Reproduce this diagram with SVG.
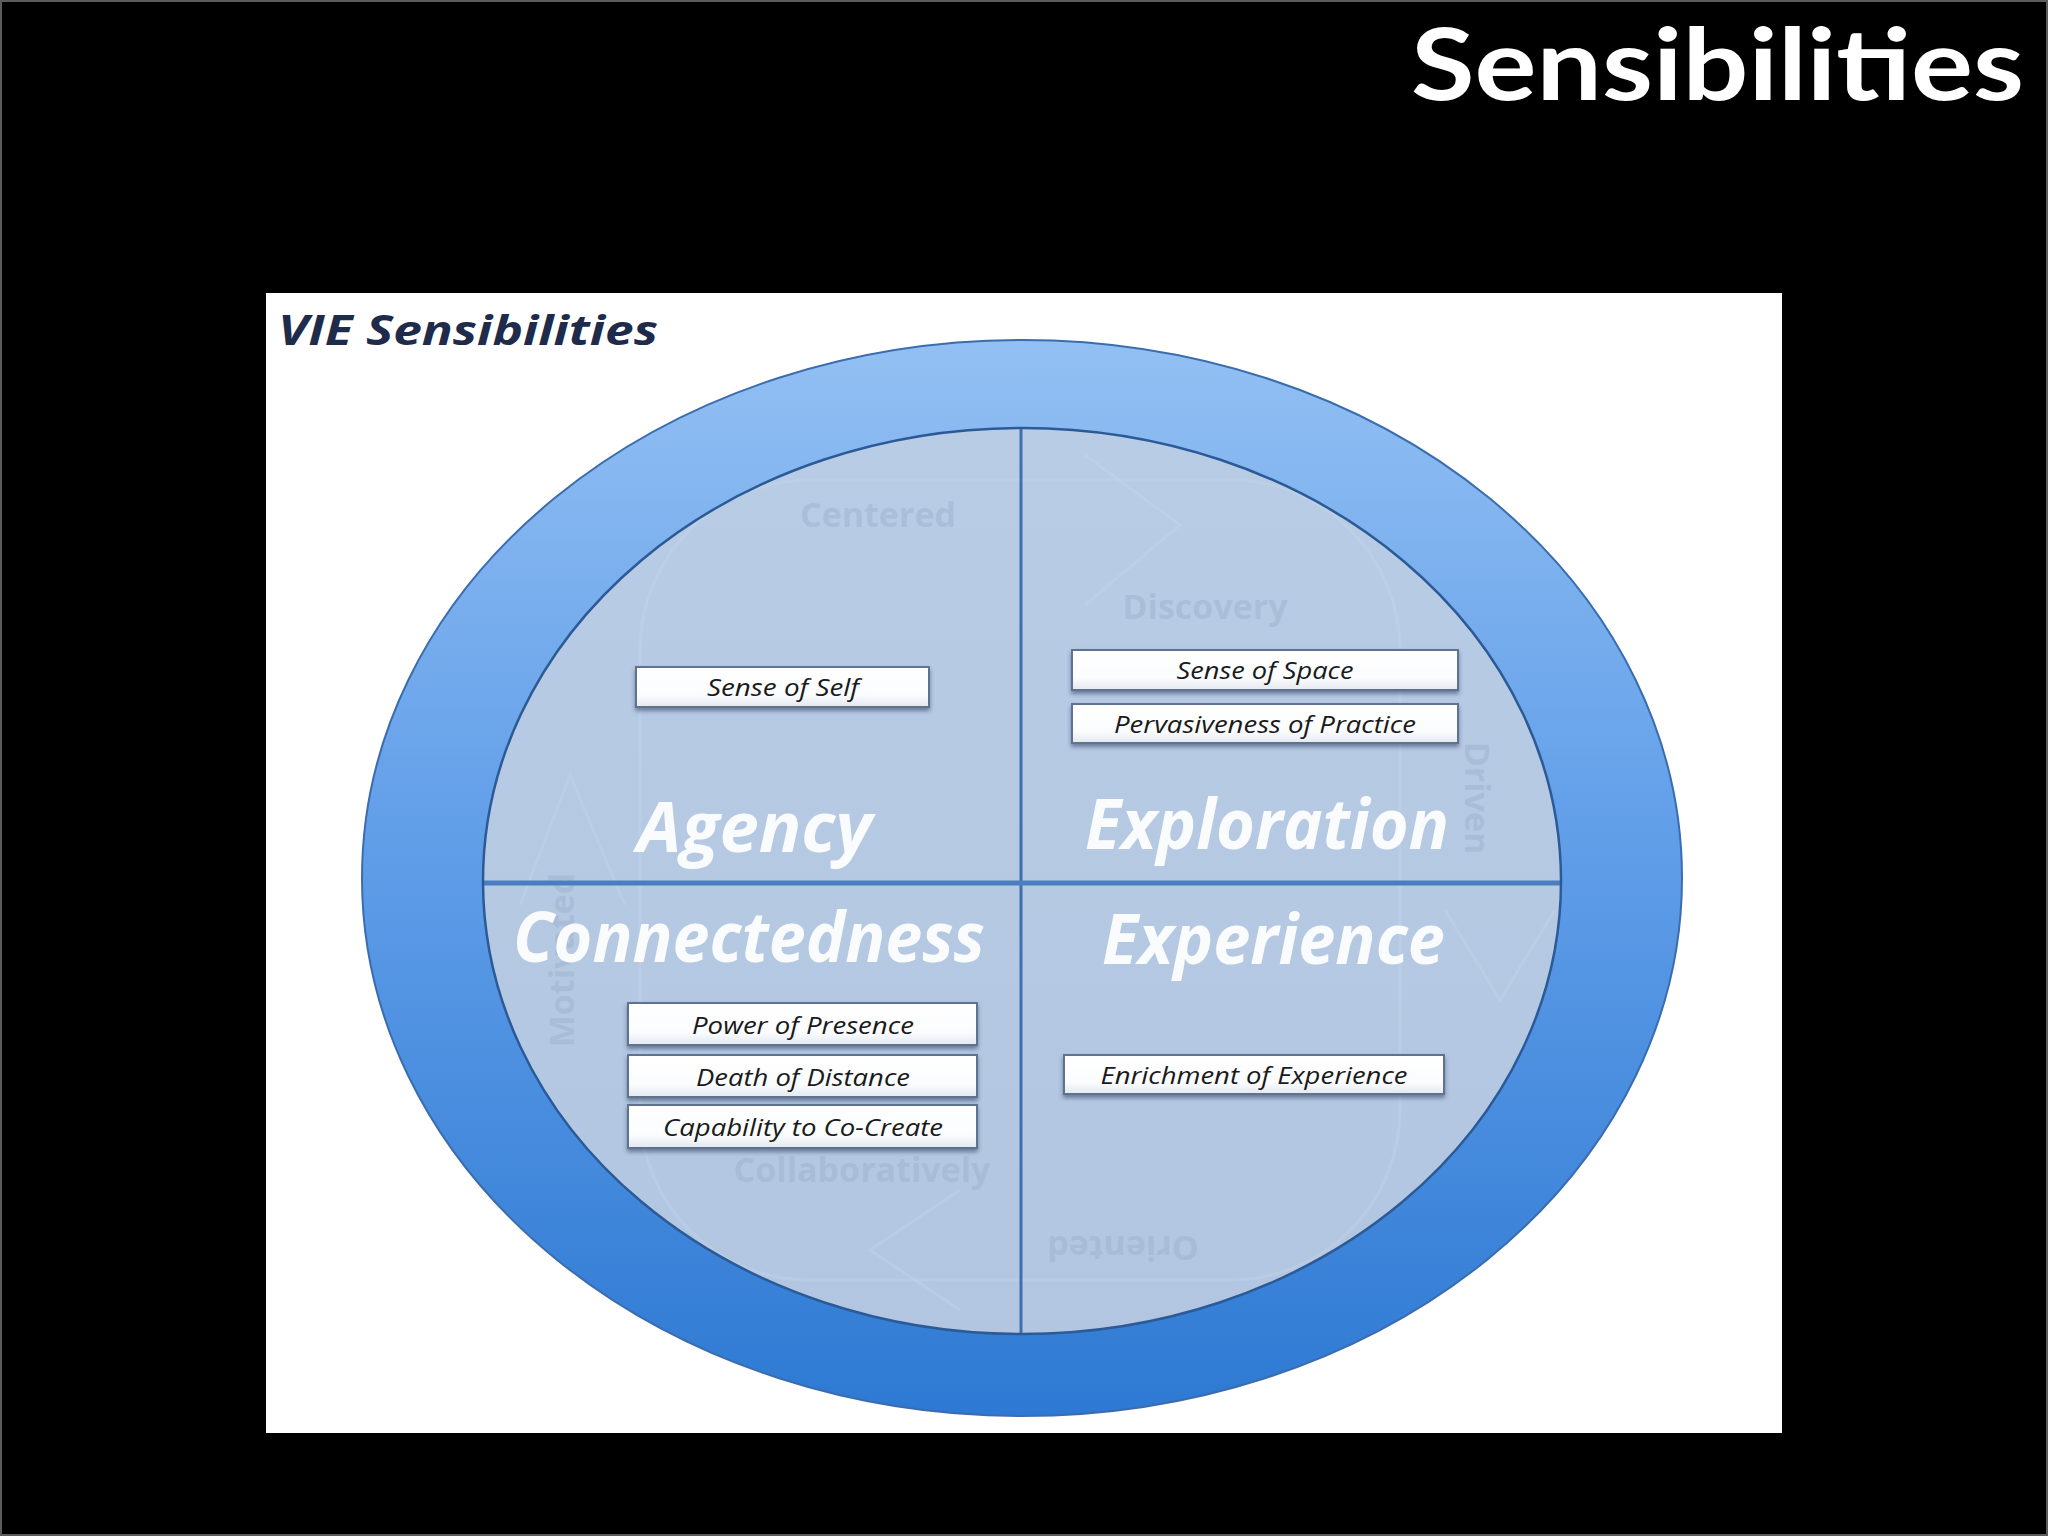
<svg xmlns="http://www.w3.org/2000/svg" width="2048" height="1536" viewBox="0 0 2048 1536">
  <defs>
    <style>
      .title { font-family: Lato, "Open Sans", "Liberation Sans", sans-serif; font-weight: 700; fill: #ffffff; }
      .sub { font-family: "Open Sans", "Liberation Sans", sans-serif; font-weight: 700; font-style: italic; fill: #1e2b4b; }
      .big { font-family: "Open Sans", "Liberation Sans", sans-serif; font-weight: 700; font-style: italic; fill: #ffffff; fill-opacity: 0.93; }
      .lbl { font-family: "Open Sans", "Liberation Sans", sans-serif; font-style: italic; font-size: 24px; fill: #1a1a1a; text-anchor: middle; }
      .ghost { font-family: "Open Sans", "Liberation Sans", sans-serif; font-weight: 700; font-size: 34px; fill: #9fb3cf; fill-opacity: 0.55; text-anchor: middle; }
      .ghostshape { fill: none; stroke: #c7d6ea; stroke-opacity: 0.35; stroke-width: 3; }
      .box { fill: url(#boxGrad); stroke: #5f7390; stroke-width: 2; filter: url(#shadow); }
      .divider { stroke: #3e6fae; }
    </style>
    <linearGradient id="ringGrad" x1="0" y1="0" x2="0" y2="1">
      <stop offset="0" stop-color="#93c0f3"/>
      <stop offset="0.45" stop-color="#629fe9"/>
      <stop offset="1" stop-color="#2d79d3"/>
    </linearGradient>
    <linearGradient id="innerGrad" x1="0" y1="0" x2="0" y2="1">
      <stop offset="0" stop-color="#b9cce5"/>
      <stop offset="1" stop-color="#b2c6e1"/>
    </linearGradient>
    <linearGradient id="boxGrad" x1="0" y1="0" x2="0" y2="1">
      <stop offset="0" stop-color="#ffffff"/>
      <stop offset="0.7" stop-color="#fbfcfe"/>
      <stop offset="1" stop-color="#e3e8f0"/>
    </linearGradient>
    <filter id="shadow" x="-5%" y="-20%" width="110%" height="160%">
      <feDropShadow dx="0" dy="3" stdDeviation="2" flood-color="#2a3b5c" flood-opacity="0.55"/>
    </filter>
    <clipPath id="innerClip">
      <ellipse cx="1022" cy="881" rx="539" ry="453"/>
    </clipPath>
  </defs>

  <!-- background -->
  <rect x="0" y="0" width="2048" height="1536" fill="#000000"/>
  <rect x="1" y="1" width="2046" height="1534" fill="none" stroke="#5c5c5c" stroke-width="2"/>

  <g id="title">
    <text class="title" x="1411" y="100" font-size="100" textLength="613" lengthAdjust="spacingAndGlyphs">Sensibilities</text>
  </g>

  <!-- white panel -->
  <rect id="panel" x="266" y="293" width="1516" height="1140" fill="#ffffff"/>

  <g id="panel-title">
    <text class="sub" x="278" y="345" font-size="42" textLength="380" lengthAdjust="spacingAndGlyphs">VIE Sensibilities</text>
  </g>

  <g id="ring">
    <ellipse cx="1022" cy="878" rx="660" ry="538" fill="url(#ringGrad)" stroke="#3a6cae" stroke-width="2"/>
  </g>

  <g id="inner">
    <ellipse cx="1022" cy="881" rx="539" ry="453" fill="url(#innerGrad)"/>
    <!-- faint background cycle graphic -->
    <g clip-path="url(#innerClip)">
      <rect class="ghostshape" x="640" y="480" width="760" height="800" rx="170"/>
      <polyline class="ghostshape" points="1085,455 1180,525 1085,605"/>
      <polyline class="ghostshape" points="520,905 570,775 625,905"/>
      <polyline class="ghostshape" points="1445,910 1500,1000 1555,910"/>
      <polyline class="ghostshape" points="960,1190 870,1250 960,1310"/>
      <text class="ghost" x="878" y="527">Centered</text>
      <text class="ghost" x="1205" y="619">Discovery</text>
      <text class="ghost" transform="translate(1465,798) rotate(90)">Driven</text>
      <text class="ghost" transform="translate(574,960) rotate(-90)">Motivated</text>
      <text class="ghost" x="862" y="1182">Collaboratively</text>
      <text class="ghost" transform="translate(1123,1236) rotate(180)">Oriented</text>
    </g>
  </g>

  <g id="dividers" clip-path="url(#innerClip)">
    <line class="divider" x1="1021" y1="420" x2="1021" y2="1340" stroke-width="3"/>
    <line x1="480" y1="883" x2="1565" y2="883" stroke="#4a7ec0" stroke-width="5"/>
  </g>
  <ellipse cx="1022" cy="881" rx="539" ry="453" fill="none" stroke="#2b5a97" stroke-width="2.5"/>

  <g id="quadrant-agency">
    <text class="big" x="637" y="852" font-size="70" textLength="235" lengthAdjust="spacingAndGlyphs">Agency</text>
  </g>
  <g id="quadrant-exploration">
    <text class="big" x="1085" y="849" font-size="70" textLength="364" lengthAdjust="spacingAndGlyphs">Exploration</text>
  </g>
  <g id="quadrant-connectedness">
    <text class="big" x="513" y="962" font-size="70" textLength="472" lengthAdjust="spacingAndGlyphs">Connectedness</text>
  </g>
  <g id="quadrant-experience">
    <text class="big" x="1102" y="964" font-size="70" textLength="343" lengthAdjust="spacingAndGlyphs">Experience</text>
  </g>

  <g id="box-sense-of-self">
    <rect class="box" x="636" y="667" width="293" height="40"/>
    <text class="lbl" x="783" y="696" textLength="152" lengthAdjust="spacingAndGlyphs">Sense of Self</text>
  </g>
  <g id="box-sense-of-space">
    <rect class="box" x="1072" y="650" width="386" height="40"/>
    <text class="lbl" x="1265" y="679" textLength="177" lengthAdjust="spacingAndGlyphs">Sense of Space</text>
  </g>
  <g id="box-pervasiveness">
    <rect class="box" x="1072" y="704" width="386" height="39"/>
    <text class="lbl" x="1265" y="733" textLength="302" lengthAdjust="spacingAndGlyphs">Pervasiveness of Practice</text>
  </g>
  <g id="box-power-of-presence">
    <rect class="box" x="628" y="1003" width="349" height="42"/>
    <text class="lbl" x="803" y="1034" textLength="222" lengthAdjust="spacingAndGlyphs">Power of Presence</text>
  </g>
  <g id="box-death-of-distance">
    <rect class="box" x="628" y="1055" width="349" height="42"/>
    <text class="lbl" x="803" y="1086" textLength="214" lengthAdjust="spacingAndGlyphs">Death of Distance</text>
  </g>
  <g id="box-capability">
    <rect class="box" x="628" y="1105" width="349" height="43"/>
    <text class="lbl" x="803" y="1136" textLength="280" lengthAdjust="spacingAndGlyphs">Capability to Co-Create</text>
  </g>
  <g id="box-enrichment">
    <rect class="box" x="1064" y="1055" width="380" height="39"/>
    <text class="lbl" x="1254" y="1084" textLength="307" lengthAdjust="spacingAndGlyphs">Enrichment of Experience</text>
  </g>
</svg>
